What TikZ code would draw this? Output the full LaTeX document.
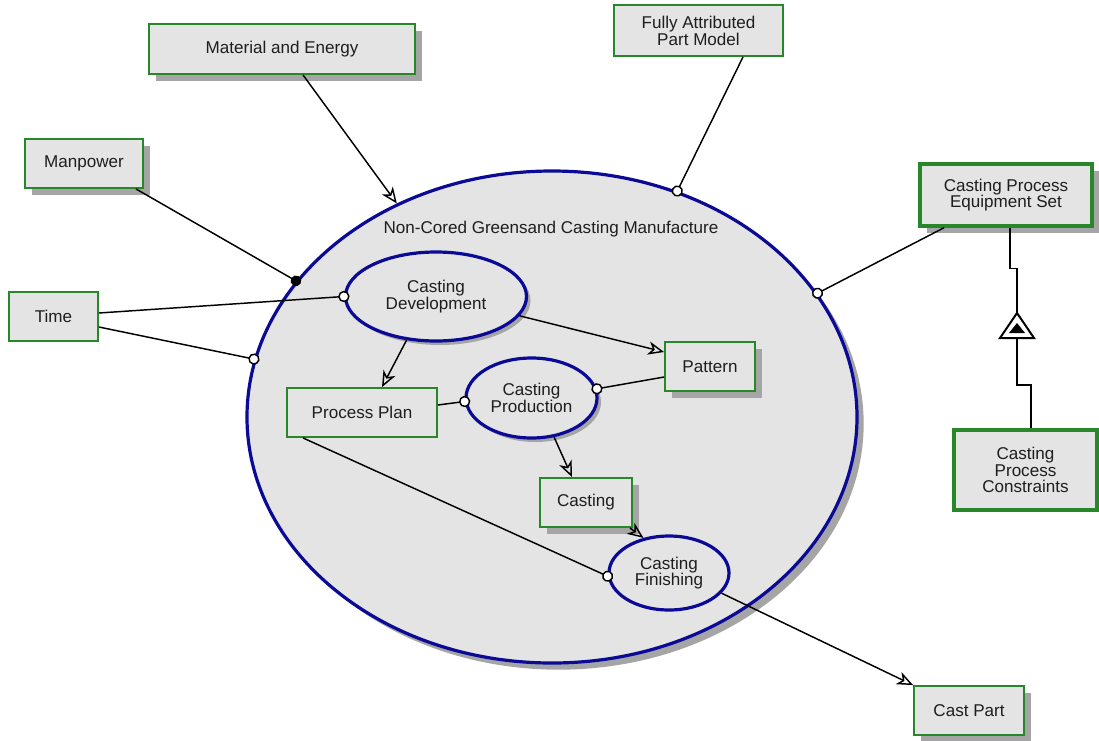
\documentclass[tikz,border=0pt]{standalone}
\usepackage{fontspec}
\setmainfont{Liberation Sans}
\usetikzlibrary{arrows.meta,shapes.geometric,shadows,calc}
\definecolor{boxgreen}{RGB}{40,135,40}
\definecolor{procblue}{RGB}{10,10,150}
\definecolor{boxfill}{RGB}{228,228,228}
\definecolor{txt}{RGB}{30,30,30}
\definecolor{shade}{RGB}{165,165,165}
\begin{document}
\begin{tikzpicture}[x=0.75pt,y=-0.75pt,
  every node/.style={font=\fontsize{12.8}{12.6}\selectfont, text=txt, align=center, inner sep=0pt},
  thing/.style={rectangle, draw=boxgreen, line width=1.4pt, fill=boxfill},
  thick thing/.style={thing, line width=2.6pt},
  shad/.style={drop shadow={shadow xshift=5pt, shadow yshift=-5pt, fill=shade, opacity=1}},
  shadsmall/.style={drop shadow={shadow xshift=3pt, shadow yshift=-3pt, fill=shade, opacity=1}},
  proc/.style={ellipse, draw=procblue, line width=2.4pt, fill=boxfill},
  link/.style={draw=black, line width=1.1pt},
  arr/.style={link, -{Stealth[open, length=12pt, width=10pt, inset=3.5pt]}},
  circ/.style={link, -{Circle[length=8.5pt, fill=white]}, shorten >=-4.25pt},
  dotend/.style={link, -{Circle[length=8pt]}, shorten >=-4pt},
]
\useasboundingbox (0,0) rectangle (1099,740);

% container process
\node[proc, shad, minimum width=457.5pt, minimum height=369pt] (big) at (552,417) {};
\node (bigl) at (551,229) {Non-Cored Greensand Casting Manufacture};

% outer things
\node[thing, shad, minimum width=199.5pt, minimum height=37.5pt] (mat) at (282,49) {Material and Energy};
\node[thing, minimum width=126.75pt, minimum height=38.25pt] (fully) at (698.5,30.5) {Fully Attributed\\Part Model};
\node[thing, shad, minimum width=88.5pt, minimum height=36.75pt] (man) at (84,163.5) {Manpower};
\node[thing, minimum width=66.75pt, minimum height=36.75pt] (time) at (53.5,316.5) {Time};
\node[thick thing, shad, minimum width=129pt, minimum height=46.5pt] (equip) at (1006,195) {Casting Process\\Equipment Set};
\node[thick thing, minimum width=107.25pt, minimum height=60pt] (cons) at (1025.5,470) {Casting\\Process\\Constraints};
\node[thing, shad, minimum width=82.5pt, minimum height=36.75pt] (castpart) at (969,710.5) {Cast Part};

% inner things
\node[thing, shad, minimum width=67.5pt, minimum height=36.75pt] (pattern) at (710,366.5) {Pattern};
\node[thing, minimum width=112.5pt, minimum height=36.75pt] (pp) at (362,412.5) {Process Plan};
\node[thing, shad, minimum width=69pt, minimum height=36.75pt] (casting) at (586,502.5) {Casting};

% inner processes
\node[proc, shadsmall, minimum width=135.75pt, minimum height=66.75pt] (cd) at (436,296.5) {Casting\\Development};
\node[proc, shadsmall, minimum width=98.25pt, minimum height=60pt] (cp) at (531.5,398) {Casting\\Production};
\node[proc, minimum width=90pt, minimum height=55.5pt] (cf) at (669,573) {Casting\\Finishing};

% links to container
\draw[arr] ($(mat.south)+(21,0)$) -- (big.126.5);
\draw[circ] ($(fully.south)+(44.5,0)$) -- (big.61.6);
\draw[dotend] ($(man.south)+(52,0)$) -- (big.152);
\draw[circ] ($(time.east)+(0,-3.5)$) -- (cd.west);
\draw[circ] ($(time.east)+(0,10.5)$) -- (big.169);
\draw[circ] ($(equip.south)+(-62,0)$) -- (big.25.3);

% inner links
\draw[arr] (cd.-13) -- ($(pattern.west)+(0,-14.5)$);
\draw[arr] (cd.236) -- ($(pp.north)+(20,0)$);
\draw[circ] ($(pattern.west)+(0,10.5)$) -- (cp.8);
\draw[circ] ($(pp.east)+(0,-7.5)$) -- (cp.183);
\draw[arr] (cp.-60) -- ($(casting.north)+(-14,0)$);
\draw[arr] ($(casting.south east)+(-3,0)$) -- (cf.126.6);
\draw[circ] ($(pp.south)+(-59,0)$) -- (cf.183.5);
\draw[arr] (cf.-21.6) -- (castpart.north west);

% exhibition / characterization link
\coordinate (tritop) at (1017,313);
\coordinate (tribot) at (1017,338);
\draw[link] ($(equip.south)+(4,0)$) -- ++(0,41) -- ++(7,0) -- (tritop);
\draw[link] (tribot) -- ++(0,47) -- ++(14,0) -- ($(cons.north)+(5.5,0)$);
\filldraw[draw=black, fill=white, line width=1.5pt, line join=miter] (tritop) -- (1000,338) -- (1034,338) -- cycle;
\fill[black] (1017,323) -- (1009,333) -- (1025,333) -- cycle;
\end{tikzpicture}
\end{document}
